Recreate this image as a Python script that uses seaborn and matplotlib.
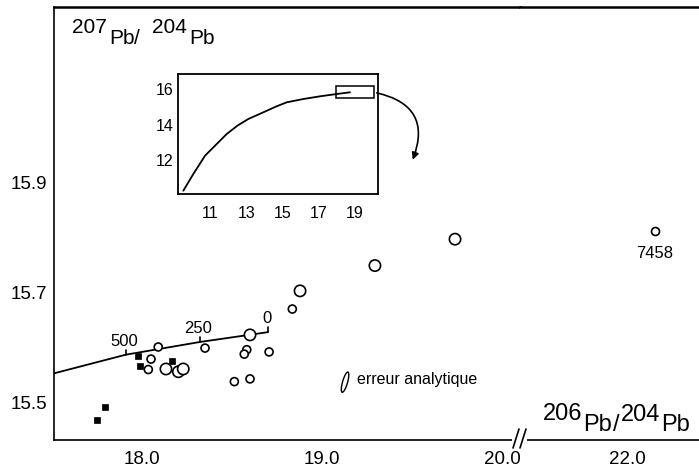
import numpy as np
import pandas as pd
import matplotlib
matplotlib.use("Agg")
import matplotlib.pyplot as plt
import seaborn as sns
from matplotlib import font_manager
from matplotlib import transforms as mtransforms
from matplotlib.patches import Ellipse, Rectangle, FancyArrowPatch
from matplotlib.lines import Line2D

# ---------------- data ----------------
circle_x = [18.090, 18.050, 18.035, 18.133, 18.202, 18.229, 18.350, 18.600,
            18.582, 18.568, 18.706, 18.513, 18.600, 18.835, 18.878, 19.294, 19.739]
circle_y = [15.600, 15.578, 15.559, 15.560, 15.555, 15.560, 15.598, 15.622,
            15.595, 15.587, 15.591, 15.537, 15.542, 15.669, 15.702, 15.748, 15.796]
circle_size = ["small", "small", "small", "large", "large", "large", "small", "large",
               "small", "small", "small", "small", "small", "small", "large", "large", "large"]

square_x = [17.979, 17.989, 18.165, 17.794, 17.748]
square_y = [15.584, 15.565, 15.574, 15.490, 15.468]

far_x = [22.156]
far_y = [15.810]
far_label = ["7458"]

curve_x = [17.51, 17.91, 18.32, 18.70]
curve_y = [15.552, 15.586, 15.609, 15.627]
age_labels = ["", "500", "250", "0"]

inset_x = [9.527, 10.079, 10.724, 11.370, 11.921, 12.508, 13.113, 13.941,
           14.676, 15.232, 16.148, 17.069, 17.989, 18.724]
inset_y = [10.205, 11.150, 12.186, 12.848, 13.414, 13.884, 14.263, 14.642,
           14.981, 15.208, 15.394, 15.547, 15.677, 15.774]

main_xticks = [18.0, 19.0, 20.0]
main_xticklabels = ["18.0", "19.0", "20.0"]
right_xticks = [22.0]
right_xticklabels = ["22.0"]
main_yticks = [15.5, 15.7, 15.9]
main_yticklabels = ["15.5", "15.7", "15.9"]
inset_xticks = [11, 13, 15, 17, 19]
inset_yticks = [12, 14, 16]

# ---------------- style ----------------
sns.set_theme(style="white")
names = {f.name for f in font_manager.fontManager.ttflist}
if "Liberation Sans Narrow" in names:
    FONT = "Liberation Sans Narrow"
elif "Liberation Sans" in names:
    FONT = "Liberation Sans"
else:
    FONT = "DejaVu Sans"
plt.rcParams["font.family"] = [FONT, "DejaVu Sans"]

W, H = 699, 477
fig = plt.figure(figsize=(W / 100, H / 100), dpi=100)
fig.patch.set_facecolor("white")


def fx(px):
    return px / W


def fy(py):
    return 1 - py / H


AX_L, AX_B, AX_T, BRK = 54, 441, 7.5, 520
ax1 = fig.add_axes([fx(AX_L), fy(AX_B), fx(BRK - AX_L), (AX_B - AX_T) / H])
ax2 = fig.add_axes([fx(BRK), fy(AX_B), fx(W - BRK), (AX_B - AX_T) / H])

YLIM = (15.4309, 16.219)
for ax in (ax1, ax2):
    ax.set_facecolor("white")
    ax.set_ylim(*YLIM)
    for s in ax.spines.values():
        s.set_color("black")
        s.set_linewidth(1.2)
    ax.spines["top"].set_linewidth(1.8)
    ax.tick_params(direction="in", length=4, width=1.1, colors="black",
                   labelsize=13.5)

ax1.set_xlim(17.511, 20.1)
ax2.set_xlim(21.406, 22.4)
ax1.spines["right"].set_visible(False)
ax2.spines["left"].set_visible(False)
ax2.spines["right"].set_visible(False)

ax1.set_xticks(main_xticks)
ax1.set_xticklabels(main_xticklabels)
ax1.set_xticks([18.5, 19.5], minor=True)
ax1.set_yticks(main_yticks)
ax1.set_yticklabels(main_yticklabels)
ax1.set_yticks([15.6, 15.8], minor=True)
ax1.tick_params(which="minor", direction="in", length=4, width=1.1)
ax1.tick_params(axis="x", pad=7)
ax1.tick_params(axis="y", pad=5)
ax2.set_xticks(right_xticks)
ax2.set_xticklabels(right_xticklabels)
ax2.set_yticks([])
ax2.tick_params(axis="x", pad=7)

# growth curve
sns.lineplot(x=curve_x, y=curve_y, ax=ax1, color="black", linewidth=1.3,
             sort=False, estimator=None, zorder=2)
for cx, cy, lab in zip(curve_x, curve_y, age_labels):
    if lab == "":
        continue
    ax1.plot([cx, cx], [cy, cy + 0.009], color="black", lw=1.2, zorder=2)
    ax1.annotate(lab, (cx, cy), xytext=(-1, 10.5), textcoords="offset points",
                 ha="center", va="center", fontsize=12, color="black")

# data points
df_c = pd.DataFrame({"x": circle_x, "y": circle_y, "sz": circle_size})
sns.scatterplot(data=df_c, x="x", y="y", size="sz",
                sizes={"small": 33, "large": 66}, ax=ax1, color="white",
                edgecolor="black", linewidth=1.2, legend=False, zorder=3)
df_s = pd.DataFrame({"x": square_x, "y": square_y})
sns.scatterplot(data=df_s, x="x", y="y", marker="s", s=22, ax=ax1,
                color="black", edgecolor="black", linewidth=0.5,
                legend=False, zorder=4)
df_f = pd.DataFrame({"x": far_x, "y": far_y})
sns.scatterplot(data=df_f, x="x", y="y", s=33, ax=ax2, color="white",
                edgecolor="black", linewidth=1.2, legend=False, zorder=3)
for xv, yv, lab in zip(far_x, far_y, far_label):
    ax2.annotate(lab, (xv, yv), xytext=(0, -15), textcoords="offset points",
                 ha="center", va="center", fontsize=12, color="black")

for ax in (ax1, ax2):
    ax.set_xlabel("")
    ax.set_ylabel("")

# analytical error symbol
ex, ey = 19.128, 15.536
etrans = fig.dpi_scale_trans + mtransforms.ScaledTranslation(ex, ey, ax1.transData)
ax1.add_patch(Ellipse((0, 0), width=0.05, height=0.21, angle=-16,
                      transform=etrans, facecolor="white", edgecolor="black",
                      lw=1.0, zorder=5))
ax1.text(19.194, 15.542, "erreur analytique", fontsize=11.5, ha="left",
         va="center", color="black")

# axis titles: pieces placed one after another (raised mass numbers)
renderer = fig.canvas.get_renderer()


def label_pieces(x0, pieces, size):
    x = x0
    for s, py, gap in pieces:
        t = fig.text(fx(x), fy(py), s, fontsize=size, ha="left",
                     va="baseline", color="black")
        bb = t.get_window_extent(renderer)
        x += bb.width + gap


label_pieces(72, [("207", 33, 2), ("Pb", 44, 0), ("/", 44, 12),
                  ("204", 33, 2), ("Pb", 44, 0)], 15)
label_pieces(543, [("206", 420, 1), ("Pb", 431, 1), ("/", 431, 1),
                   ("204", 421, 1), ("Pb", 431, 0)], 17)

# axis break "//"
fig.patches.append(Rectangle((fx(512), fy(446)), fx(15), 10 / H,
                             transform=fig.transFigure, facecolor="white",
                             edgecolor="none", zorder=10))
for x0 in (513, 520):
    fig.lines.append(Line2D([fx(x0), fx(x0 + 6)], [fy(449), fy(430)],
                            transform=fig.transFigure, color="black", lw=1.2,
                            zorder=11))

# inset
axi = fig.add_axes([fx(178), fy(195), fx(200), 120 / H])
axi.set_facecolor("white")
sns.lineplot(x=inset_x, y=inset_y, ax=axi, color="black", linewidth=1.3,
             sort=False, estimator=None)
axi.set_xlim(9.234, 20.27)
axi.set_ylim(10.02, 16.81)
axi.set_xticks(inset_xticks)
axi.set_yticks(inset_yticks)
axi.tick_params(direction="in", length=3, width=1.0, labelsize=11.5,
                colors="black")
axi.tick_params(axis="x", pad=8)
axi.tick_params(axis="y", pad=3)
for s in axi.spines.values():
    s.set_color("black")
    s.set_linewidth(1.3)
axi.set_xlabel("")
axi.set_ylabel("")
axi.add_patch(Rectangle((17.93, 15.45), 2.11, 0.66, facecolor="none",
                        edgecolor="black", lw=1.1))

arrow = FancyArrowPatch((fx(374), fy(93.3)), (fx(411.7), fy(163.3)),
                        transform=fig.transFigure,
                        connectionstyle="arc3,rad=-0.6", arrowstyle="-|>",
                        mutation_scale=10, color="black", lw=1.2)
fig.patches.append(arrow)

fig.savefig("out.png", dpi=100, facecolor="white")
